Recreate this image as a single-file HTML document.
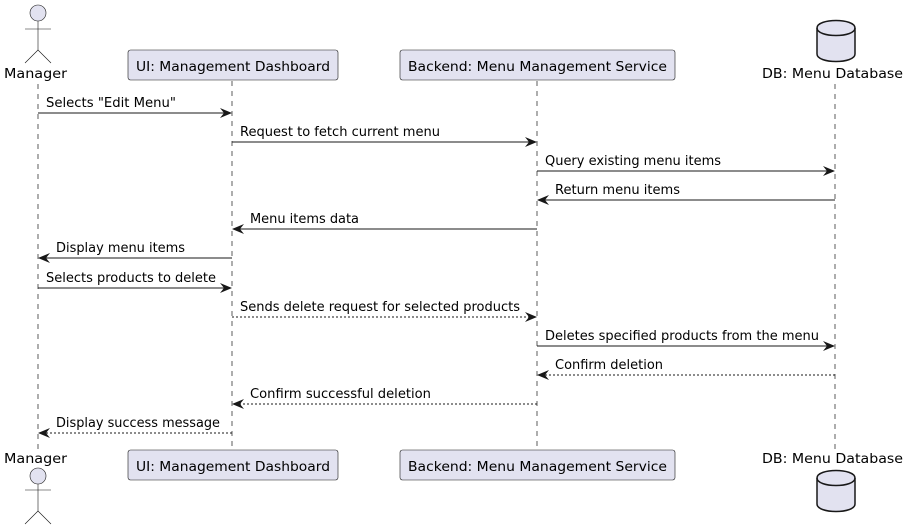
<!DOCTYPE html>
<html><head><meta charset="utf-8"><style>
html,body{margin:0;padding:0;background:#fff;}
svg{display:block;}
text{font-family:"DejaVu Sans",sans-serif;font-size:13.3px;fill:#000;}
</style></head><body>
<svg width="908" height="530" viewBox="0 0 908 530" xmlns="http://www.w3.org/2000/svg">
<defs>
<marker id="a" viewBox="0 0 12 10" refX="11" refY="5" markerWidth="12" markerHeight="10" markerUnits="userSpaceOnUse" orient="auto">
<path d="M0,0 L12,5 L0,10 L4,5 Z" fill="#181818"/>
</marker>
</defs>
<g stroke="#181818" stroke-width="0.7" stroke-dasharray="5,5">
<line x1="38" y1="84" x2="38" y2="450"/>
<line x1="232" y1="81" x2="232" y2="450"/>
<line x1="537" y1="81" x2="537" y2="450"/>
<line x1="835" y1="84" x2="835" y2="450"/>
</g>
<circle cx="38" cy="13" r="8" fill="#E2E2F0" stroke="#181818" stroke-width="0.6"/>
<g stroke="#181818" stroke-width="0.6" fill="none">
<line x1="38" y1="21" x2="38" y2="50"/><line x1="25" y1="29" x2="51" y2="29"/>
<line x1="38" y1="50" x2="25" y2="63"/><line x1="38" y1="50" x2="51" y2="63"/>
</g>
<text x="4" y="78" textLength="63" lengthAdjust="spacingAndGlyphs">Manager</text>
<rect x="128" y="50" width="210" height="30" rx="2.5" fill="#E2E2F0" stroke="#181818" stroke-width="0.6"/>
<text x="136" y="71" textLength="194" lengthAdjust="spacingAndGlyphs">UI: Management Dashboard</text>
<rect x="400" y="50" width="275" height="30" rx="2.5" fill="#E2E2F0" stroke="#181818" stroke-width="0.6"/>
<text x="408" y="71" textLength="259" lengthAdjust="spacingAndGlyphs">Backend: Menu Management Service</text>
<path d="M817,28 C817,18 855,18 855,28 L855,54 C855,64 817,64 817,54 Z" fill="#E2E2F0" stroke="#181818" stroke-width="1.5"/>
<path d="M817,28 C817,38 855,38 855,28" fill="none" stroke="#181818" stroke-width="1.5"/>
<text x="762" y="78" textLength="141" lengthAdjust="spacingAndGlyphs">DB: Menu Database</text>
<text x="4" y="463" textLength="63" lengthAdjust="spacingAndGlyphs">Manager</text>
<circle cx="38" cy="476" r="8" fill="#E2E2F0" stroke="#181818" stroke-width="0.6"/>
<g stroke="#181818" stroke-width="0.6" fill="none">
<line x1="38" y1="484" x2="38" y2="511"/><line x1="25" y1="490" x2="51" y2="490"/>
<line x1="38" y1="511" x2="25" y2="524"/><line x1="38" y1="511" x2="51" y2="524"/>
</g>
<rect x="128" y="450" width="210" height="30" rx="2.5" fill="#E2E2F0" stroke="#181818" stroke-width="0.6"/>
<text x="136" y="471" textLength="194" lengthAdjust="spacingAndGlyphs">UI: Management Dashboard</text>
<rect x="400" y="450" width="275" height="30" rx="2.5" fill="#E2E2F0" stroke="#181818" stroke-width="0.6"/>
<text x="408" y="471" textLength="259" lengthAdjust="spacingAndGlyphs">Backend: Menu Management Service</text>
<text x="762" y="463" textLength="141" lengthAdjust="spacingAndGlyphs">DB: Menu Database</text>
<path d="M817,478 C817,468 855,468 855,478 L855,504 C855,514 817,514 817,504 Z" fill="#E2E2F0" stroke="#181818" stroke-width="1.5"/>
<path d="M817,478 C817,488 855,488 855,478" fill="none" stroke="#181818" stroke-width="1.5"/>
<g stroke="#181818" stroke-width="1" marker-end="url(#a)">
<line x1="38" y1="113" x2="231" y2="113"/>
<line x1="232" y1="142" x2="536" y2="142"/>
<line x1="537" y1="171" x2="834" y2="171"/>
<line x1="835" y1="200" x2="538" y2="200"/>
<line x1="537" y1="229" x2="233" y2="229"/>
<line x1="232" y1="258" x2="39" y2="258"/>
<line x1="38" y1="288" x2="231" y2="288"/>
<line x1="232" y1="317" x2="536" y2="317" stroke-dasharray="2,2"/>
<line x1="537" y1="346" x2="834" y2="346"/>
<line x1="835" y1="375" x2="538" y2="375" stroke-dasharray="2,2"/>
<line x1="537" y1="404" x2="233" y2="404" stroke-dasharray="2,2"/>
<line x1="232" y1="433" x2="39" y2="433" stroke-dasharray="2,2"/>
</g>
<text x="46" y="107" textLength="130" lengthAdjust="spacingAndGlyphs">Selects "Edit Menu"</text>
<text x="240" y="136" textLength="200" lengthAdjust="spacingAndGlyphs">Request to fetch current menu</text>
<text x="545" y="165" textLength="176" lengthAdjust="spacingAndGlyphs">Query existing menu items</text>
<text x="555" y="194" textLength="125" lengthAdjust="spacingAndGlyphs">Return menu items</text>
<text x="250" y="223" textLength="109" lengthAdjust="spacingAndGlyphs">Menu items data</text>
<text x="56" y="252" textLength="129" lengthAdjust="spacingAndGlyphs">Display menu items</text>
<text x="46" y="282" textLength="170" lengthAdjust="spacingAndGlyphs">Selects products to delete</text>
<text x="240" y="311" textLength="280" lengthAdjust="spacingAndGlyphs">Sends delete request for selected products</text>
<text x="545" y="340" textLength="274" lengthAdjust="spacingAndGlyphs">Deletes specified products from the menu</text>
<text x="555" y="369" textLength="108" lengthAdjust="spacingAndGlyphs">Confirm deletion</text>
<text x="250" y="398" textLength="181" lengthAdjust="spacingAndGlyphs">Confirm successful deletion</text>
<text x="56" y="427" textLength="164" lengthAdjust="spacingAndGlyphs">Display success message</text>
</svg>
</body></html>
